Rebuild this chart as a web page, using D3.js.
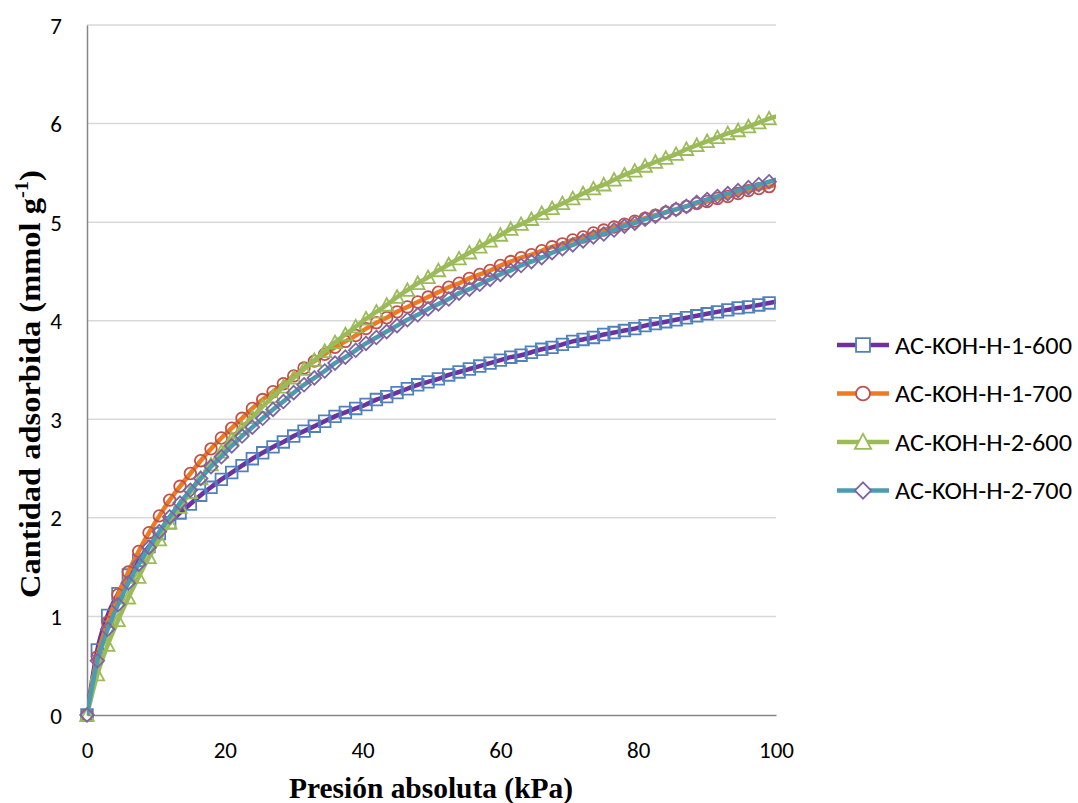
<!DOCTYPE html>
<html>
<head>
<meta charset="utf-8">
<script src="https://cdn.jsdelivr.net/npm/d3@7"></script>
<style>
body { margin: 0; background: #fff; }
text { font-family: Carlito, Lato, "Liberation Sans", sans-serif; }
</style>
</head>
<body>
<svg id="chart" width="1078" height="803"></svg>
<script>
// pressure (kPa) of each measured point, last one falls past the axis max
var pressure = [0,1.5,3,4.5,6,7.5,9,10.5,12,13.5,15,16.5,18,19.5,21,22.5,24,25.5,27,28.5,
    30,31.5,33,34.5,36,37.5,39,40.5,42,43.5,45,46.5,48,49.5,51,52.5,54,55.5,57,58.5,
    60,61.5,63,64.5,66,67.5,69,70.5,72,73.5,75,76.5,78,79.5,81,82.5,84,85.5,87,88.5,
    90,91.5,93,94.5,96,97.5,99,100.5];

// amount adsorbed (mmol/g)
var h1_600 = [0,0.66,1.01,1.23,1.42,1.57,1.71,1.84,1.95,2.05,2.14,2.23,2.31,2.39,2.46,2.53,2.60,
    2.66,2.72,2.77,2.83,2.88,2.93,2.98,3.03,3.07,3.11,3.15,3.20,3.23,3.27,3.31,3.35,3.38,3.41,
    3.45,3.48,3.51,3.54,3.57,3.60,3.63,3.65,3.68,3.71,3.73,3.76,3.79,3.81,3.83,3.86,3.88,3.90,
    3.92,3.95,3.97,3.99,4.01,4.03,4.05,4.07,4.09,4.11,4.13,4.14,4.16,4.18,4.20];
var h1_700 = [0,0.59,0.94,1.22,1.45,1.66,1.85,2.02,2.18,2.32,2.45,2.58,2.70,2.81,2.91,3.01,3.11,
    3.20,3.28,3.36,3.44,3.52,3.59,3.66,3.73,3.79,3.85,3.92,3.98,4.03,4.09,4.14,4.19,4.24,4.29,
    4.34,4.38,4.43,4.47,4.51,4.56,4.60,4.64,4.67,4.71,4.75,4.78,4.82,4.85,4.89,4.92,4.95,4.98,
    5.01,5.04,5.07,5.10,5.13,5.16,5.19,5.21,5.24,5.26,5.29,5.32,5.34,5.36,5.39];
var h2_600 = [0,0.41,0.71,0.96,1.19,1.40,1.60,1.78,1.95,2.11,2.26,2.40,2.54,2.67,2.80,2.91,3.02,
    3.13,3.23,3.33,3.42,3.51,3.60,3.69,3.78,3.86,3.94,4.02,4.09,4.16,4.24,4.31,4.38,4.44,4.51,
    4.57,4.63,4.69,4.75,4.81,4.87,4.93,4.98,5.03,5.09,5.14,5.19,5.24,5.29,5.34,5.38,5.43,5.48,
    5.52,5.57,5.61,5.65,5.69,5.74,5.78,5.82,5.86,5.90,5.93,5.97,6.01,6.05,6.08];
var h2_700 = [0,0.55,0.87,1.12,1.34,1.53,1.70,1.86,2.01,2.15,2.28,2.40,2.52,2.62,2.73,2.83,2.92,
    3.01,3.10,3.18,3.27,3.35,3.42,3.49,3.57,3.63,3.70,3.77,3.83,3.89,3.95,4.01,4.06,4.12,4.17,
    4.22,4.28,4.32,4.37,4.42,4.47,4.51,4.56,4.60,4.64,4.69,4.73,4.77,4.81,4.85,4.88,4.92,4.96,
    4.99,5.03,5.06,5.10,5.13,5.16,5.20,5.23,5.26,5.29,5.32,5.35,5.38,5.41,5.44];

var seriesNames = ["AC-KOH-H-1-600", "AC-KOH-H-1-700", "AC-KOH-H-2-600", "AC-KOH-H-2-700"];
var xTicks = [0, 20, 40, 60, 80, 100];
var yTicks = [0, 1, 2, 3, 4, 5, 6, 7];

var series = [
    {name: seriesNames[0], values: h1_600, line: "#7030A0", mark: "#4F81BD", shape: "square"},
    {name: seriesNames[1], values: h1_700, line: "#F07B1E", mark: "#C0504D", shape: "circle"},
    {name: seriesNames[2], values: h2_600, line: "#9BBB59", mark: "#9BBB59", shape: "triangle"},
    {name: seriesNames[3], values: h2_700, line: "#4A9DB0", mark: "#8064A2", shape: "diamond"}
];

var svg = d3.select("#chart");
var x = d3.scaleLinear().domain([0, 100]).range([87, 776]);
var y = d3.scaleLinear().domain([0, 7]).range([715, 25]);

// marker outlines, excel style
function markerPath(shape, k) {
    k = k || 1;
    var a = 5.8 * k, b = 6.8 * k;
    if (shape == "square") return "M" + -a + "," + -a + "H" + a + "V" + a + "H" + -a + "Z";
    if (shape == "circle") return "M" + a + ",0A" + a + "," + a + " 0 1,1 " + -a + ",0A" + a + "," + a + " 0 1,1 " + a + ",0Z";
    if (shape == "triangle") return "M0," + -b + "L" + b + "," + a + "H" + -b + "Z";
    return "M0," + -b + "L" + b + ",0L0," + b + "L" + -b + ",0Z";
}

// gridlines
svg.append("g").selectAll("line")
    .data(yTicks.filter(function(d){ return d > 0; }))
    .enter().append("line")
    .attr("x1", x(0)).attr("x2", x(100))
    .attr("y1", function(d){ return y(d); })
    .attr("y2", function(d){ return y(d); })
    .attr("stroke", "#d9d9d9")
    .attr("stroke-width", 1.5);

// axes
var xAxis = svg.append("g")
    .attr("transform", "translate(0," + y(0) + ")")
    .call(d3.axisBottom(x).tickValues(xTicks).tickSize(0).tickFormat(d3.format("d")));
var yAxis = svg.append("g")
    .attr("transform", "translate(" + x(0) + ",0)")
    .call(d3.axisLeft(y).tickValues(yTicks).tickSize(0).tickPadding(25).tickFormat(d3.format("d")));
[xAxis, yAxis].forEach(function(a){
    a.select(".domain").attr("stroke", "#868686").attr("stroke-width", 1.5);
    a.selectAll("text").attr("font-size", 23).attr("fill", "#000")
        .style("font-family", "Carlito, Lato, 'Liberation Sans', sans-serif");
});
xAxis.selectAll("text").attr("dy", "0.35em").attr("y", 35);
yAxis.selectAll("text").attr("dy", "0.35em");

svg.append("clipPath").attr("id", "plotclip")
    .append("rect").attr("x", x(0)).attr("y", y(7) - 10)
    .attr("width", x(100) - x(0)).attr("height", y(0) - y(7) + 20);

var line = d3.line()
    .x(function(d){ return x(d[0]); })
    .y(function(d){ return y(d[1]); })
    .curve(d3.curveMonotoneX);

series.forEach(function(s){
    var pts = pressure.map(function(p, i){ return [p, s.values[i]]; });
    var g = svg.append("g");
    g.append("path")
        .attr("d", line(pts))
        .attr("clip-path", "url(#plotclip)")
        .attr("fill", "none")
        .attr("stroke", s.line)
        .attr("stroke-width", 4.5)
        .attr("stroke-linejoin", "round");
    g.selectAll("path.mk")
        .data(pts.filter(function(d){ return d[0] <= 100; }))
        .enter().append("path")
        .attr("class", "mk")
        .attr("d", markerPath(s.shape))
        .attr("transform", function(d){ return "translate(" + x(d[0]) + "," + y(d[1]) + ")"; })
        .attr("fill", "none")
        .attr("stroke", s.mark)
        .attr("stroke-width", 1.8);
});

// legend
var legend = svg.append("g").attr("transform", "translate(837,345)");
series.forEach(function(s, i){
    var row = legend.append("g").attr("transform", "translate(0," + (i * 48.5) + ")");
    row.append("line").attr("x1", 0).attr("x2", 52)
        .attr("stroke", s.line).attr("stroke-width", 4.5);
    row.append("path").attr("d", markerPath(s.shape, 1.2))
        .attr("transform", "translate(26,0)")
        .attr("fill", "#fff").attr("stroke", s.mark).attr("stroke-width", 1.8);
    row.append("text").attr("x", 58).attr("dy", "0.36em")
        .attr("font-size", 24)
        .attr("textLength", 177).attr("lengthAdjust", "spacingAndGlyphs")
        .text(s.name);
});

// axis titles
svg.append("text")
    .attr("x", 431).attr("y", 798)
    .attr("text-anchor", "middle")
    .style("font-family", "'Liberation Serif', 'DejaVu Serif', serif")
    .attr("font-weight", "bold").attr("font-size", 30)
    .attr("textLength", 284).attr("lengthAdjust", "spacingAndGlyphs")
    .text("Presión absoluta (kPa)");

var yt = svg.append("text")
    .attr("transform", "translate(40,384) rotate(-90)")
    .attr("text-anchor", "middle")
    .style("font-family", "'Liberation Serif', 'DejaVu Serif', serif")
    .attr("font-weight", "bold").attr("font-size", 30);
yt.append("tspan").text("Cantidad adsorbida (mmol g");
yt.append("tspan").attr("font-size", 19).attr("dy", -12).text("-1");
yt.append("tspan").attr("dy", 12).text(")");
// squeeze to the width the original title takes
var ytw = yt.node().getComputedTextLength();
yt.attr("transform", "translate(40,384) rotate(-90) scale(" + (428 / ytw) + ",1)");
</script>
</body>
</html>
